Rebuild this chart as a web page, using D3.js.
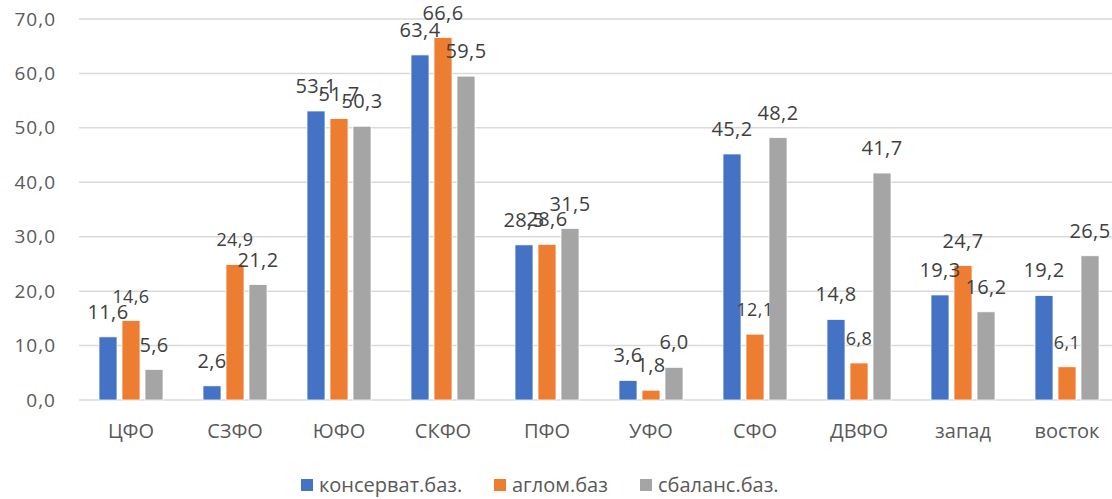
<!DOCTYPE html>
<html>
<head>
<meta charset="utf-8">
<script src="https://cdn.jsdelivr.net/npm/d3@7"></script>
<style>
  body { margin: 0; background: #fff; }
  text { font-family: "Open Sans", "Noto Sans", sans-serif; }
</style>
</head>
<body>
<script>
var w = 1112;
var h = 499;

// categories and series
var categories = ["ЦФО", "СЗФО", "ЮФО", "СКФО", "ПФО", "УФО", "СФО", "ДВФО", "запад", "восток"];
var seriesNames = ["консерват.баз.", "аглом.баз", "сбаланс.баз."];
var konservat = [11.6, 2.6, 53.1, 63.4, 28.5, 3.6, 45.2, 14.8, 19.3, 19.2];
var aglom = [14.6, 24.9, 51.7, 66.6, 28.6, 1.8, 12.1, 6.8, 24.7, 6.1];
var sbalans = [5.6, 21.2, 50.3, 59.5, 31.5, 6.0, 48.2, 41.7, 16.2, 26.5];
var yTicks = [0, 10, 20, 30, 40, 50, 60, 70];

var colors = ["#4472C4", "#ED7D31", "#A5A5A5"];
// labels that Excel drew in a smaller font (orange series)
var smallLabels = ["ЦФО", "СЗФО", "СФО", "ДВФО", "восток"];

var seriesValues = [konservat, aglom, sbalans];
var fmt = function (v) { return v.toFixed(1).replace(".", ","); };

var svg = d3.select("body").append("svg").attr("width", w).attr("height", h);

var x = d3.scaleBand().domain(categories).range([79, 1119])
  .paddingInner(40 / 104).paddingOuter(20 / 104);
var xs = d3.scaleBand().domain(d3.range(3)).range([0, x.bandwidth()])
  .paddingInner(5 / 23).paddingOuter(0);
var y = d3.scaleLinear().domain([0, 70]).range([400, 19]);

// gridlines
svg.append("g")
  .selectAll("line")
  .data(yTicks)
  .enter()
  .append("line")
  .attr("x1", 79)
  .attr("x2", w)
  .attr("y1", function (d) { return y(d); })
  .attr("y2", function (d) { return y(d); })
  .style("stroke", "#d9d9d9")
  .style("stroke-width", 1.5);

// y axis labels
var yAxis = d3.axisLeft(y).tickValues(yTicks).tickFormat(fmt).tickSize(0).tickPadding(0);
var gy = svg.append("g").attr("transform", "translate(56,0)").call(yAxis);
gy.select(".domain").remove();
gy.selectAll("text")
  .style("font-family", "'Open Sans', sans-serif")
  .style("font-size", "19px")
  .style("letter-spacing", "1px")
  .style("fill", "#595959");

// x axis labels
var xAxis = d3.axisBottom(x).tickSize(0).tickPadding(0);
var gx = svg.append("g").attr("transform", "translate(0,424)").call(xAxis);
gx.select(".domain").remove();
gx.selectAll("text")
  .style("font-family", "'Open Sans', sans-serif")
  .style("font-size", "20px")
  .style("fill", "#595959");

// bars
var groups = svg.selectAll("g.cat")
  .data(categories)
  .enter()
  .append("g")
  .attr("class", "cat")
  .attr("transform", function (d) { return "translate(" + x(d) + ",0)"; });

var cells = function (c, ci) {
  return seriesValues.map(function (s, si) { return { si: si, v: s[ci], cat: c }; });
};

groups.selectAll("rect")
  .data(cells)
  .enter()
  .append("rect")
  .attr("x", function (d) { return xs(d.si); })
  .attr("width", xs.bandwidth())
  .attr("y", function (d) { return y(d.v); })
  .attr("height", function (d) { return y(0) - y(d.v); })
  .style("fill", function (d) { return colors[d.si]; })
  .style("stroke", "#fff")
  .style("stroke-width", 0.75);

// data labels
groups.selectAll("text.lbl")
  .data(cells)
  .enter()
  .append("text")
  .attr("class", "lbl")
  .attr("x", function (d) { return xs(d.si) + xs.bandwidth() / 2; })
  .attr("y", function (d) { return y(d.v) - 18; })
  .attr("text-anchor", "middle")
  .style("font-size", function (d) {
    return d.si == 1 && smallLabels.indexOf(d.cat) >= 0 ? "18px" : "20px";
  })
  .style("letter-spacing", "0.4px")
  .style("fill", "#404040")
  .text(function (d) { return fmt(d.v); });

// legend
var legendX = [301, 494, 640];
var legend = svg.selectAll("g.leg")
  .data(seriesNames)
  .enter()
  .append("g")
  .attr("class", "leg")
  .attr("transform", function (d, i) { return "translate(" + legendX[i] + ",479)"; });
legend.append("rect")
  .attr("width", 12).attr("height", 12)
  .style("fill", function (d, i) { return colors[i]; });
legend.append("text")
  .attr("x", 18).attr("y", 13)
  .style("font-size", "20px")
  .style("fill", "#595959")
  .text(function (d) { return d; });
</script>
</body>
</html>
